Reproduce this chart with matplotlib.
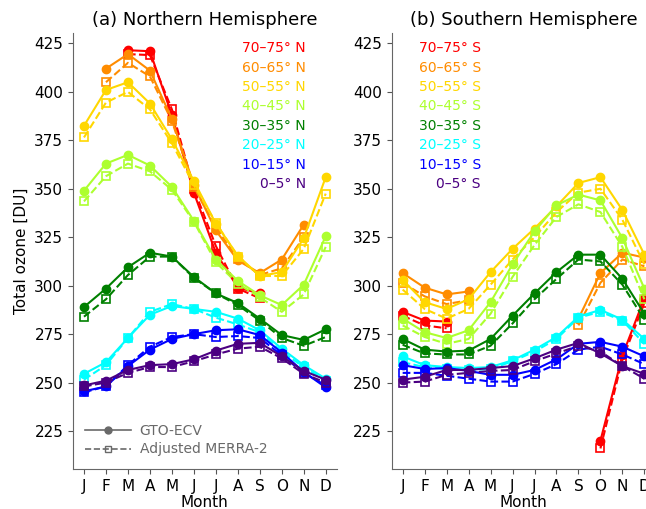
import numpy as np
import matplotlib
matplotlib.use('Agg')
import matplotlib.pyplot as plt
from matplotlib.lines import Line2D

nan = np.nan
months = ['J', 'F', 'M', 'A', 'M', 'J', 'J', 'A', 'S', 'O', 'N', 'D']

bands = ['70–75°', '60–65°', '50–55°', '40–45°', '30–35°', '20–25°', '10–15°', '0–5°']
colors = ['red', 'darkorange', 'gold', 'greenyellow', 'green', 'cyan', 'blue', 'indigo']

# Northern Hemisphere: GTO-ECV (solid) and adjusted MERRA-2 (dashed)
nh_gto = [
    [nan, nan, 421.5, 421, 388, 348, 317, 299, 296, nan, nan, nan],
    [nan, 412, 419.5, 411, 386, 352, 328.5, 313, 306.5, 313.5, 331.5, nan],
    [382.5, 401, 405, 394, 375.5, 354, 332, 315.5, 305, 307, 324.5, 356],
    [349, 363, 367.5, 362, 351, 333.5, 313.5, 302.5, 295, 290, 300.5, 325.5],
    [289, 298.5, 309.5, 317, 315, 304.5, 296, 291, 283, 274.5, 272, 277.5],
    [254.5, 260.5, 273, 285, 289.5, 288, 286.5, 283, 277, 267.5, 259, 252],
    [245.5, 248, 258.5, 267, 272.5, 275, 277, 277.5, 274.5, 265.5, 255.5, 247.5],
    [248.5, 251, 256.5, 259, 259.5, 262, 266.5, 270, 270.5, 263.5, 256, 251.5],
]
nh_merra = [
    [nan, nan, 419.5, 419, 391, 350, 320.5, 298.5, 293.5, nan, nan, nan],
    [nan, 405, 415, 408, 385, 351, 330, 314, 305.5, 309, 325, nan],
    [376.5, 394.5, 400, 391, 373.5, 352, 332.5, 315, 305, 305, 319, 347.5],
    [343.5, 356.5, 363, 359, 349.5, 333, 312, 301, 294, 286.5, 295.5, 320],
    [284, 293, 305.5, 315, 315, 304, 296, 290, 282, 273, 269, 273.5],
    [251.5, 259, 273, 286.5, 290.5, 288, 283.5, 280, 276, 266, 258, 251],
    [245, 248, 259, 268.5, 273.5, 275, 273.5, 274, 273, 264, 255, 248.5],
    [248, 250, 255, 258, 258, 261, 264.5, 267.5, 268.5, 262.5, 254.5, 250],
]

# Southern Hemisphere
sh_gto = [
    [286.5, 282, 281.5, nan, nan, nan, nan, nan, nan, 220, 264, 293.5],
    [306.5, 299, 295.5, 297, nan, nan, nan, nan, 283, 306.5, 317, 314.5],
    [303, 291.5, 288, 293, 307, 319, 329.5, 341, 353, 356, 339, 316],
    [283, 276, 273, 277, 291.5, 311, 328, 341.5, 347, 344, 324.5, 298.5],
    [272.5, 267, 266, 266.5, 272.5, 284.5, 296, 307, 316, 316, 303.5, 285.5],
    [263.5, 259, 258, 257.5, 258, 261.5, 267, 273.5, 284, 287.5, 282.5, 272.5],
    [259, 257, 257.5, 256, 254, 254, 256.5, 262, 270, 271, 268.5, 263.5],
    [251.5, 253, 256.5, 256.5, 257.5, 258.5, 262.5, 267, 270.5, 265, 258.5, 254.5],
]
sh_merra = [
    [284.5, 279.5, 278, nan, nan, nan, nan, nan, nan, 216, 262, 291],
    [301.5, 294.5, 290.5, 292.5, nan, nan, nan, nan, 279.5, 301.5, 313.5, 310],
    [298, 288, 283, 288, 300.5, 313.5, 325, 338, 348, 350, 334, 311],
    [279.5, 273.5, 270, 272.5, 285.5, 304.5, 321, 335.5, 342, 338, 320, 293],
    [269.5, 265, 264.5, 264.5, 269, 280.5, 293, 303.5, 313.5, 312.5, 300.5, 282.5],
    [260.5, 258, 257, 256.5, 257, 261, 266, 272.5, 283.5, 286.5, 282, 270],
    [255, 255, 253.5, 252, 250.5, 250.5, 254.5, 259.5, 267, 268.5, 264.5, 259.5],
    [250, 250.5, 254, 255, 256, 256.5, 261, 265, 269, 266, 258.5, 252],
]

fig = plt.figure(figsize=(6.46, 5.09), dpi=100)
ax1 = fig.add_axes([0.1130, 0.0786, 0.4082, 0.8566])
ax2 = fig.add_axes([0.6063, 0.0786, 0.4082, 0.8566])

x = np.arange(12)
panels = [(ax1, nh_gto, nh_merra, 'N', '(a) Northern Hemisphere', 0.8836),
          (ax2, sh_gto, sh_merra, 'S', '(b) Southern Hemisphere', 0.3387)]

for ax, gto, merra, hemi, title, xlab in panels:
    for i in range(len(bands)):
        ax.plot(x, merra[i], '--s', color=colors[i], lw=1.5, ms=6,
                mfc='none', mew=1.2)
        ax.plot(x, gto[i], '-o', color=colors[i], lw=1.5, ms=6)
        ax.text(xlab, 0.965 - i * 0.0445, bands[i] + ' ' + hemi, color=colors[i],
                fontsize=10, ha='right', va='center', transform=ax.transAxes)
    ax.set_xlim(-0.5, 11.5)
    ax.set_ylim(205.4, 430.4)
    ax.set_xticks(x)
    ax.set_xticklabels(months)
    ax.set_yticks(np.arange(225, 426, 25))
    ax.tick_params(labelsize=11, color='#555555')
    ax.set_xlabel('Month', fontsize=11, labelpad=1)
    ax.set_title(title, fontsize=13)
    for side in ['top', 'right']:
        ax.spines[side].set_visible(False)
    for side in ['left', 'bottom']:
        ax.spines[side].set_color('#666666')

ax1.set_ylabel('Total ozone [DU]', fontsize=11)

handles = [Line2D([], [], color='dimgray', ls='-', marker='o', ms=5, lw=1.2),
           Line2D([], [], color='dimgray', ls='--', marker='s', ms=4, mfc='none', lw=1.2)]
ax1.legend(handles, ['GTO-ECV', 'Adjusted MERRA-2'], loc='lower left',
           bbox_to_anchor=(0.0, 0.0), frameon=False, fontsize=10,
           labelcolor='dimgray', handlelength=3.3, handletextpad=0.6,
           labelspacing=0.3)

fig.savefig('out.png', dpi=100)
